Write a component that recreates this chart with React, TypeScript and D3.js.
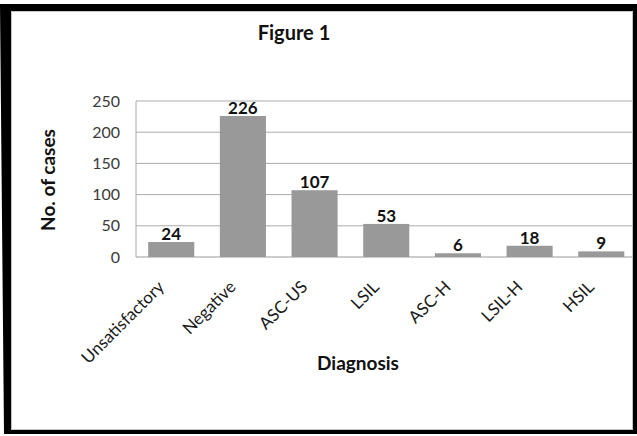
import React from "react";
import * as d3 from "d3";

// Cytology results by diagnostic category
const categories = ["Unsatisfactory", "Negative", "ASC-US", "LSIL", "ASC-H", "LSIL-H", "HSIL"];
const cases = [24, 226, 107, 53, 6, 18, 9];
const yTicks = [0, 50, 100, 150, 200, 250];

const W = 637;
const H = 436;
const FONT = "Lato, 'Open Sans', sans-serif";

export default function App() {
  const plotLeft = 136;
  const plotRight = 636.5;
  const plotTop = 101;
  const plotBottom = 257;

  const x = d3
    .scaleBand<string>()
    .domain(categories)
    .range([plotLeft, plotRight])
    .paddingInner(0.357)
    .paddingOuter(0.17);

  const y = d3.scaleLinear().domain([0, 250]).range([plotBottom, plotTop]);

  // frame drawn as an even-odd ring: outer black edge around white chart area
  const framePath =
    `M0,4 H${W} V434 H4 Z ` + `M11,11 H633 V430 H11 Z`;

  return (
    <svg
      width={W}
      height={H}
      style={{ position: "absolute", left: 0, top: 0, background: "#fff" }}
    >
      <rect x={0} y={0} width={W} height={H} fill="#fff" />

      <text
        x={294}
        y={40}
        textAnchor="middle"
        fontFamily={FONT}
        fontWeight={700}
        fontSize={20}
        fill="#111"
      >
        Figure 1
      </text>

      {/* gridlines */}
      {yTicks.map((t) => (
        <line
          key={t}
          x1={plotLeft}
          x2={plotRight}
          y1={y(t)}
          y2={y(t)}
          stroke={t === 0 ? "#9a9a9a" : "#ababab"}
          strokeWidth={1}
        />
      ))}
      <line x1={plotLeft} x2={plotLeft} y1={plotTop} y2={plotBottom} stroke="#a8a8a8" />

      {/* y tick labels */}
      {yTicks.map((t) => (
        <text
          key={t}
          x={120}
          y={y(t) + 5.5}
          textAnchor="end"
          fontFamily={FONT}
          fontSize={16}
          fill="#3a3a3a"
        >
          {t}
        </text>
      ))}

      {/* bars */}
      {categories.map((c, i) => (
        <rect
          key={c}
          x={x(c)!}
          y={y(cases[i])}
          width={x.bandwidth()}
          height={plotBottom - y(cases[i])}
          fill="#999999"
        />
      ))}

      {/* value labels */}
      {categories.map((c, i) => (
        <text
          key={c}
          x={x(c)! + x.bandwidth() / 2}
          y={y(cases[i]) - 2}
          textAnchor="middle"
          fontFamily={FONT}
          fontWeight={700}
          fontSize={17}
          fill="#111"
        >
          {cases[i]}
        </text>
      ))}

      {/* category labels */}
      {categories.map((c) => {
        const cx = x(c)! + x.bandwidth() / 2 - 6;
        const cy = 288;
        return (
          <text
            key={c}
            transform={`translate(${cx},${cy}) rotate(-45)`}
            textAnchor="end"
            fontFamily={FONT}
            fontSize={17}
            fill="#1a1a1a"
          >
            {c}
          </text>
        );
      })}

      {/* axis titles */}
      <text
        transform={`translate(55,180) rotate(-90)`}
        textAnchor="middle"
        fontFamily={FONT}
        fontWeight={700}
        fontSize={19}
        fill="#111"
      >
        No. of cases
      </text>
      <text
        x={358}
        y={370}
        textAnchor="middle"
        fontFamily={FONT}
        fontWeight={700}
        fontSize={19}
        fill="#111"
      >
        Diagnosis
      </text>

      <rect x={11.5} y={11.5} width={621} height={418} fill="none" stroke="#c4c4c4" />
      <path d={framePath} fill="#000" fillRule="evenodd" />
    </svg>
  );
}
